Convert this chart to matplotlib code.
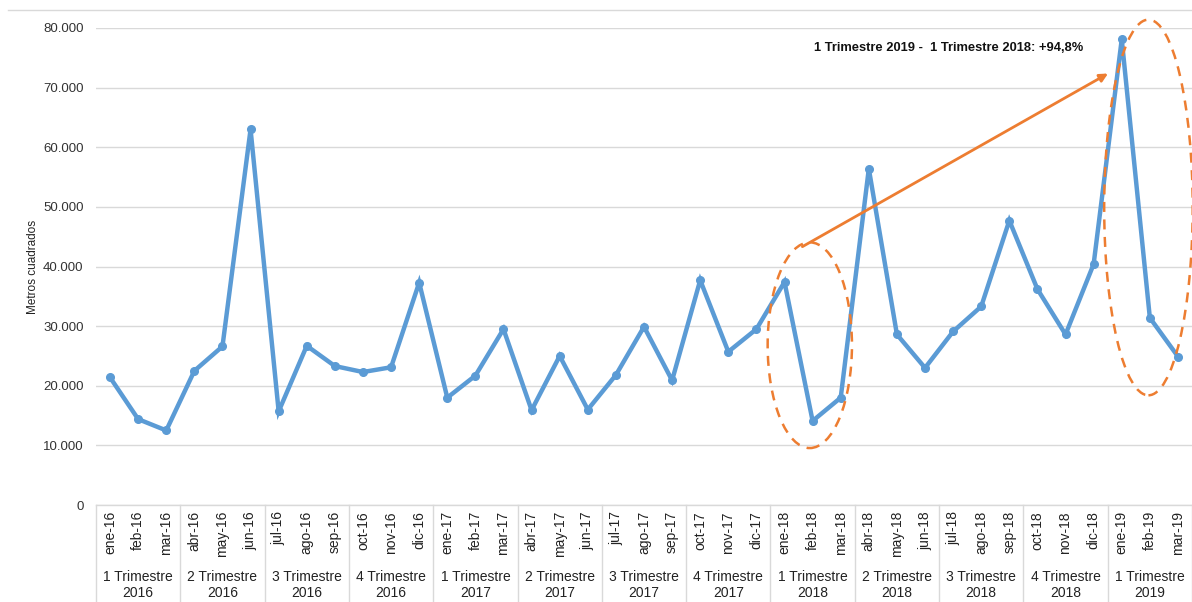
import matplotlib
matplotlib.use("Agg")
import matplotlib.pyplot as plt
from matplotlib.patches import Ellipse
from matplotlib.lines import Line2D
import matplotlib.transforms as mtransforms

plt.rcParams['font.family'] = ['Liberation Sans', 'DejaVu Sans']

months = ["ene-16", "feb-16", "mar-16", "abr-16", "may-16", "jun-16",
          "jul-16", "ago-16", "sep-16", "oct-16", "nov-16", "dic-16",
          "ene-17", "feb-17", "mar-17", "abr-17", "may-17", "jun-17",
          "jul-17", "ago-17", "sep-17", "oct-17", "nov-17", "dic-17",
          "ene-18", "feb-18", "mar-18", "abr-18", "may-18", "jun-18",
          "jul-18", "ago-18", "sep-18", "oct-18", "nov-18", "dic-18",
          "ene-19", "feb-19", "mar-19"]
values = [21400, 14400, 12500, 22500, 26600, 63000,
          15700, 26700, 23300, 22300, 23100, 37300,
          18000, 21700, 29500, 15900, 25000, 16000,
          21800, 29900, 20900, 37700, 25700, 29500,
          37400, 14100, 18000, 56400, 28600, 23000,
          29100, 33300, 47700, 36200, 28600, 40400,
          78100, 31400, 24900]
quarters = ["1 Trimestre\n2016", "2 Trimestre\n2016", "3 Trimestre\n2016", "4 Trimestre\n2016",
            "1 Trimestre\n2017", "2 Trimestre\n2017", "3 Trimestre\n2017", "4 Trimestre\n2017",
            "1 Trimestre\n2018", "2 Trimestre\n2018", "3 Trimestre\n2018", "4 Trimestre\n2018",
            "1 Trimestre\n2019"]
yticks = [0, 10000, 20000, 30000, 40000, 50000, 60000, 70000, 80000]
ytick_labels = ["0", "10.000", "20.000", "30.000", "40.000", "50.000", "60.000", "70.000", "80.000"]
annotation = "1 Trimestre 2019 -  1 Trimestre 2018: +94,8%"

W, H = 1192, 602
fig = plt.figure(figsize=(W / 100, H / 100), dpi=100)
left, right, bottom, top = 96, 1192, 505, 28
ax = fig.add_axes([left / W, 1 - bottom / H, (right - left) / W, (bottom - top) / H])

x = list(range(len(months)))
ax.plot(x, values, color="#5B9BD5", linewidth=3.2, marker="o", markersize=5.5, zorder=3,
        solid_joinstyle="miter")
ax.set_xlim(-0.5, len(months) - 0.5)
ax.set_ylim(0, 80000)
ax.set_yticks(yticks)
ax.set_yticklabels(ytick_labels, fontsize=9.5, color="#333333")
ax.tick_params(axis="y", length=0, pad=9)
ax.set_xticks([])
ax.grid(axis="y", color="#d9d9d9", linewidth=1)
ax.set_axisbelow(True)
for s in ["top", "right", "left"]:
    ax.spines[s].set_visible(False)
ax.spines["bottom"].set_color("#d9d9d9")
ax.spines["bottom"].set_linewidth(1)
ax.set_ylabel("Metros cuadrados", fontsize=8.5, color="#222222", labelpad=3)

trans = mtransforms.blended_transform_factory(ax.transData, ax.transAxes)
ax_h = bottom - top
def ay(py):
    return (bottom - py) / ax_h

for i, m in enumerate(months):
    ax.text(i, ay(511), m, rotation=90, ha="center", va="top", fontsize=10,
            color="#222222", transform=trans, clip_on=False)
for q, lab in enumerate(quarters):
    ax.text(q * 3 + 1, ay(585), lab, ha="center", va="center", fontsize=10,
            color="#222222", transform=trans, clip_on=False, linespacing=1.1)
for q in range(len(quarters) + 1):
    ax.add_line(Line2D([q * 3 - 0.5, q * 3 - 0.5], [ay(505), ay(610)], color="#d9d9d9",
                       linewidth=1, transform=trans, clip_on=False))

# top border line
fig.add_artist(Line2D([8 / W, 1.0], [1 - 10 / H, 1 - 10 / H], color="#d9d9d9", linewidth=1))

# ellipses
e1 = Ellipse((24.9, 26800), width=3.0, height=34500, fill=False, edgecolor="#ED7D31",
             linestyle=(0, (4, 3)), linewidth=1.8, zorder=4, clip_on=False)
e2 = Ellipse((36.95, 49900), width=3.15, height=63000, fill=False, edgecolor="#ED7D31",
             linestyle=(0, (4, 3)), linewidth=1.8, zorder=4, clip_on=False)
ax.add_patch(e1)
ax.add_patch(e2)

ax.annotate("", xy=(35.6, 72600), xytext=(24.55, 43100),
            arrowprops=dict(arrowstyle="-|>", color="#ED7D31", lw=2, mutation_scale=12),
            zorder=5)
ax.text(29.85, 76700, annotation, ha="center", va="center", fontsize=9.3,
        fontweight="bold", color="#111111")

fig.savefig("out.png", dpi=100)
